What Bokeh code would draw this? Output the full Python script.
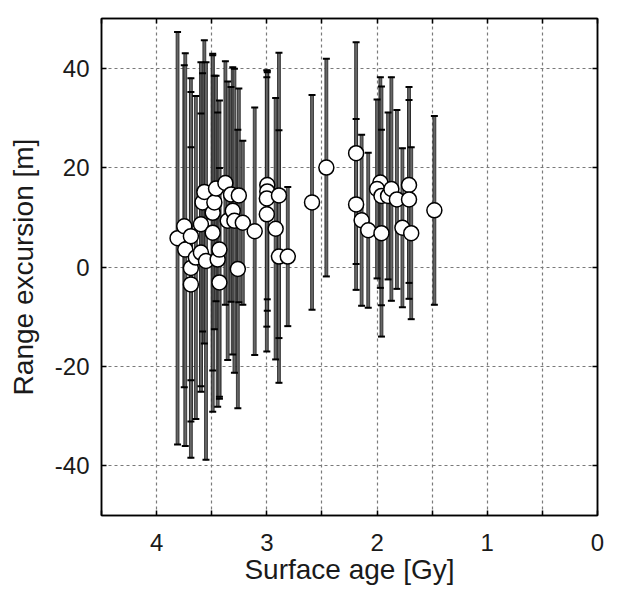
from bokeh.plotting import figure
from bokeh.models import FixedTicker, LinearAxis, Range1d
from bokeh.embed import file_html
from bokeh.resources import INLINE

# Surface age [Gy]
age = [3.810, 3.749, 3.740, 3.689, 3.689, 3.689, 3.644, 3.598, 3.598, 3.583,
       3.567, 3.552, 3.491, 3.491, 3.476, 3.461, 3.446, 3.430, 3.430, 3.376,
       3.355, 3.325, 3.309, 3.294, 3.263, 3.254, 3.218, 3.110,
       2.996, 2.996, 3.000, 3.000, 2.920, 2.890, 2.890, 2.810, 2.590, 2.460,
       2.190, 2.190, 2.140, 2.080, 1.970, 2.000, 1.960, 1.960, 1.900, 1.870,
       1.820, 1.710, 1.710, 1.770, 1.690, 1.480]
# Range excursion [m]
excursion = [5.8, 8.2, 3.5, 6.2, -0.2, -3.5, 1.9, 8.6, 2.9, 13.0,
             15.1, 1.2, 10.9, 6.9, 13.0, 15.8, 1.5, 3.5, -3.1, 16.9,
             9.3, 14.6, 11.3, 9.3, -0.4, 14.4, 8.9, 7.2,
             16.5, 15.2, 13.8, 10.6, 7.7, 14.4, 2.1, 2.1, 13.0, 20.0,
             22.9, 12.6, 9.4, 7.4, 17.0, 15.7, 14.3, 6.8, 14.3, 15.7,
             13.6, 16.5, 13.6, 7.9, 6.8, 11.4]
# symmetric uncertainty [m]
uncert = [41.5, 32.4, 39.5, 29.0, 38.2, 27.6, 32.5, 32.6, 28.0, 26.0,
          30.5, 40.0, 31.7, 36.0, 25.5, 22.7, 29.6, 30.0, 23.0, 24.5,
          28.0, 21.6, 28.9, 30.6, 28.0, 21.5, 16.5, 24.9,
          23.0, 24.0, 25.8, 27.6, 26.3, 28.7, 25.4, 14.0, 21.6, 21.9,
          22.3, 17.2, 17.2, 15.6, 21.2, 18.0, 22.0, 20.8, 16.8, 22.5,
          18.0, 19.7, 20.0, 16.0, 17.3, 19.0]

x_ticks = [0, 0.5, 1, 1.5, 2, 2.5, 3, 3.5, 4, 4.5]
x_tick_labels = ["0", "", "1", "", "2", "", "3", "", "4", ""]
y_ticks = [-40, -20, 0, 20, 40]
y_tick_labels = ["-40", "-20", "0", "20", "40"]

upper = [e + u for e, u in zip(excursion, uncert)]
lower = [e - u for e, u in zip(excursion, uncert)]

FONT = "Liberation Sans"

p = figure(frame_width=496, frame_height=497,
           x_range=Range1d(4.5, 0), y_range=Range1d(-50, 50),
           output_backend="svg", toolbar_location=None,
           min_border_left=101, min_border_top=18, min_border_right=18,
           min_border_bottom=0, x_axis_location="below")
p.background_fill_color = "white"
p.border_fill_color = "white"
p.outline_line_color = "black"
p.outline_line_width = 1.5

xt = FixedTicker(ticks=x_ticks)
yt = FixedTicker(ticks=y_ticks)

for ax in [p.xaxis[0], p.yaxis[0]]:
    ax.major_tick_in = 5
    ax.major_tick_out = 0
    ax.minor_tick_in = 0
    ax.minor_tick_out = 0
    ax.axis_line_color = "black"
    ax.axis_line_width = 1.5
    ax.major_tick_line_color = "black"
    ax.major_tick_line_width = 1.5
    ax.major_label_text_font = FONT
    ax.major_label_text_font_size = "24px"
    ax.major_label_text_color = "#1a1a1a"
    ax.axis_label_text_font = FONT
    ax.axis_label_text_font_size = "28px"
    ax.axis_label_text_font_style = "normal"
    ax.axis_label_text_color = "#1a1a1a"
    ax.major_label_standoff = 12

p.xaxis[0].ticker = xt
p.xaxis[0].major_label_overrides = {t: l for t, l in zip(x_ticks, x_tick_labels)}
p.xaxis[0].axis_label = "Surface age [Gy]"
p.xaxis[0].major_label_standoff = 18
p.xaxis[0].axis_label_standoff = 0
p.yaxis[0].ticker = yt
p.yaxis[0].major_label_overrides = {t: l for t, l in zip(y_ticks, y_tick_labels)}
p.yaxis[0].axis_label = "Range excursion [m]"
p.yaxis[0].axis_label_standoff = 13

for loc, tk in [("above", xt), ("right", yt)]:
    ax = LinearAxis(ticker=tk, major_tick_in=5, major_tick_out=0,
                    minor_tick_in=0, minor_tick_out=0,
                    axis_line_color="black", axis_line_width=1.5,
                    major_tick_line_color="black", major_tick_line_width=1.5,
                    major_label_text_font_size="0px", major_label_standoff=0)
    ax.major_label_overrides = {t: "" for t in tk.ticks}
    p.add_layout(ax, loc)

p.xgrid.ticker = xt
p.ygrid.ticker = yt
for g in [p.xgrid[0], p.ygrid[0]]:
    g.grid_line_color = "#7a7a7a"
    g.grid_line_dash = "3 3"
    g.grid_line_width = 1.2

# error bars
p.vbar(x=age, top=upper, bottom=lower, width=0.026,
       fill_color="#666666", line_color="#1e1e1e", line_width=0.8)
p.scatter(x=age, y=upper, marker="dash", size=7, line_color="black", line_width=2)
p.scatter(x=age, y=lower, marker="dash", size=7, line_color="black", line_width=2)

# data points
p.scatter(x=age, y=excursion, marker="circle", size=15,
          fill_color="white", line_color="black", line_width=1.5)

open("out.html", "w").write(file_html(p, INLINE))
